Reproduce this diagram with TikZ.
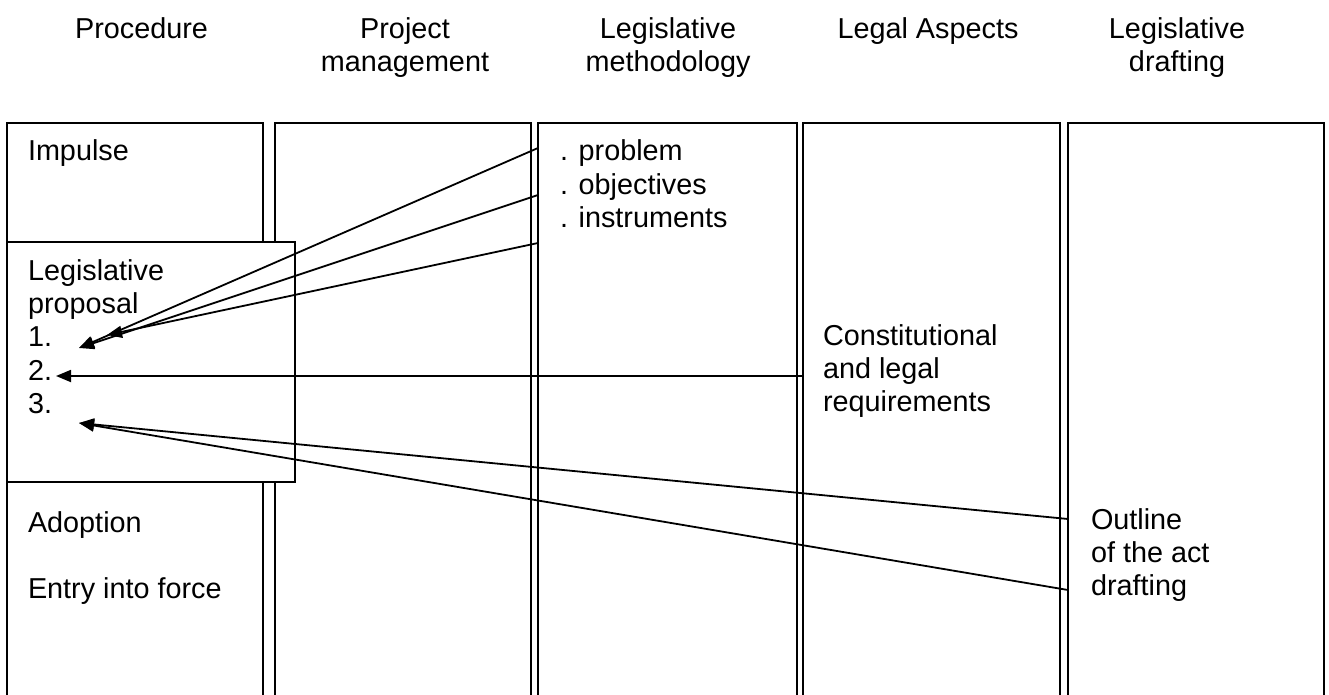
\documentclass[tikz,border=0pt]{standalone}
\usepackage{fontspec}
\setmainfont{Liberation Sans}
\usetikzlibrary{arrows.meta}
\newcommand\mlc[1]{\vtop{\halign{\hfil##\hfil\cr#1\crcr}}}
\newcommand\mll[1]{\vtop{\halign{##\hfil\cr#1\crcr}}}
\begin{document}
\begin{tikzpicture}[x=1pt,y=-1pt,
  txt/.style={font=\fontsize{28.8}{33.4}\selectfont, inner sep=0pt, outer sep=0pt},
  hdr/.style={txt, anchor=base},
  body/.style={txt, anchor=base west},
  col/.style={draw, line width=1.8pt, minimum width=#1, minimum height=620pt,
              anchor=north west, inner sep=0pt, outer sep=0pt},
  pbox/.style={draw, fill=white, line width=1.8pt, minimum width=288pt, minimum height=240pt,
              anchor=north west, inner sep=0pt, outer sep=0pt},
  arr/.style={line width=1.8pt, -{Triangle[length=15pt,width=12pt]}}]
\useasboundingbox (0,0) rectangle (1329,695);

% headers
\node[hdr] (h1) at (141.5,38.6) {Procedure};
\node[hdr] (h2) at (405,38.6) {\mlc{Project\cr management}};
\node[hdr] (h3) at (668,38.6) {\mlc{Legislative\cr methodology}};
\node[hdr] (h4) at (928,38.6) {Legal Aspects};
\node[hdr] (h5) at (1177,38.6) {\mlc{Legislative\cr drafting}};

% columns
\node[col=256pt] (c1) at (7,123) {};
\node[col=256pt] (c2) at (275,123) {};
\node[col=259pt] (c3) at (538,123) {};
\node[col=257pt] (c4) at (803,123) {};
\node[col=256pt] (c5) at (1068,123) {};

% legislative proposal box
\node[pbox] (prop) at (7,242) {};

% texts
\node[body] (imp) at (28,160.7) {Impulse};
\node[body] (legp) at (28,280) {\mll{Legislative\cr proposal\cr 1.\cr 2.\cr 3.}};
\node[body] (adop) at (28,532) {Adoption};
\node[body] (entry) at (28,598) {Entry into force};
\node[body] (meth) at (560,160.7) {\mll{. problem\cr . objectives\cr . instruments}};
\node[body] (legal) at (823,345) {\mll{Constitutional\cr and legal\cr requirements}};
\node[body] (outl) at (1091,529) {\mll{Outline\cr of the act\cr drafting}};

% connector ends
\coordinate (s1) at (538,148);
\coordinate (s2) at (538,195);
\coordinate (s3) at (538,243);
\coordinate (s4) at (803,376);
\coordinate (s5) at (1068,519);
\coordinate (s6) at (1068,590);
\coordinate (t1) at (79,348);
\coordinate (t1b) at (107,335);
\coordinate (t2) at (56,376);
\coordinate (t3) at (79,423);

\draw[arr] (s1) -- (t1);
\draw[arr] (s2) -- (t1);
\draw[arr] (s3) -- (t1b);
\draw[arr] (s4) -- (t2);
\draw[arr] (s5) -- (t3);
\draw[arr] (s6) -- (t3);
\end{tikzpicture}
\end{document}
